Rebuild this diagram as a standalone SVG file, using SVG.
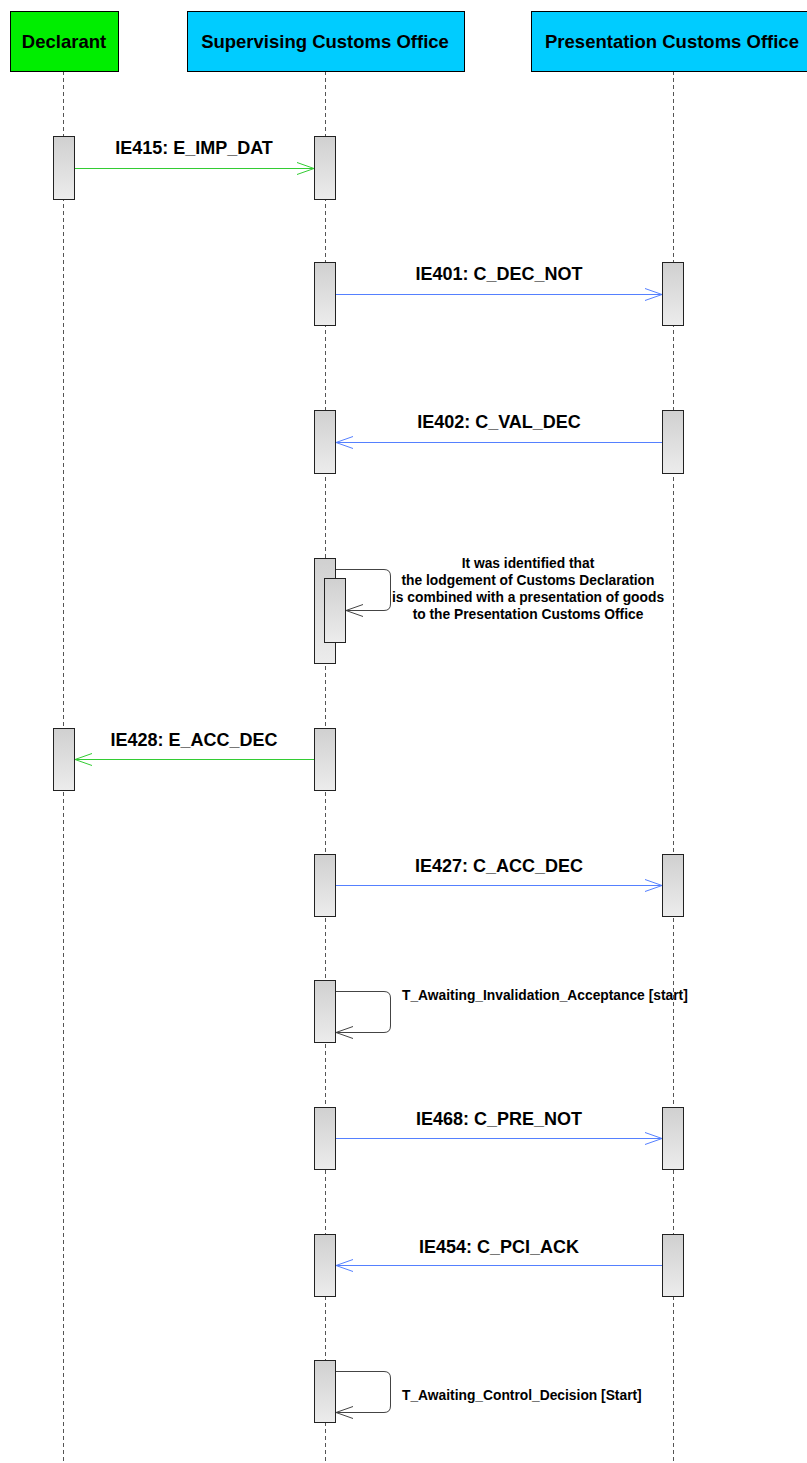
<svg xmlns="http://www.w3.org/2000/svg" width="807" height="1463" viewBox="0 0 807 1463">
<defs>
<linearGradient id="act" x1="0" y1="0" x2="0" y2="1">
<stop offset="0" stop-color="#d0d0d0"/>
<stop offset="1" stop-color="#ececec"/>
</linearGradient>
<style>
.hdr{stroke:#000;stroke-width:1}
.ht{font-family:"Liberation Sans",Arial,sans-serif;font-weight:bold;font-size:18.5px;fill:#000;text-anchor:middle}
.life{stroke:#555;stroke-width:1;stroke-dasharray:4,3;fill:none}
.act{fill:url(#act);stroke:#222;stroke-width:1}
.g{stroke:#33cc33;stroke-width:1;fill:none}
.b{stroke:#5580ff;stroke-width:1;fill:none}
.s{stroke:#444;stroke-width:1;fill:none}
.ml{font-family:"Liberation Sans",Arial,sans-serif;font-weight:bold;font-size:18px;fill:#000;text-anchor:middle}
.nt{font-family:"Liberation Sans",Arial,sans-serif;font-weight:bold;font-size:13.8px;fill:#000}
</style>
</defs>
<rect width="807" height="1463" fill="#fff"/>

<g id="lifelines">
<line class="life" x1="63.5" y1="71" x2="63.5" y2="1463"/>
<line class="life" x1="325.5" y1="71" x2="325.5" y2="1463"/>
<line class="life" x1="673.5" y1="71" x2="673.5" y2="1463"/>
</g>

<g id="declarant">
<rect class="hdr" x="10.5" y="11.5" width="108" height="60" fill="#00ee00"/>
<text class="ht" x="64" y="48">Declarant</text>
</g>
<g id="supervising">
<rect class="hdr" x="187.5" y="11.5" width="277" height="60" fill="#00ccff"/>
<text class="ht" x="325" y="48">Supervising Customs Office</text>
</g>
<g id="presentation">
<rect class="hdr" x="531.5" y="11.5" width="277" height="60" fill="#00ccff"/>
<text class="ht" x="672" y="48">Presentation Customs Office</text>
</g>

<g id="activations">
<rect class="act" x="53.5" y="136.5" width="21" height="63"/>
<rect class="act" x="314.5" y="136.5" width="21" height="63"/>
<rect class="act" x="314.5" y="262.5" width="21" height="63"/>
<rect class="act" x="662.5" y="262.5" width="21" height="63"/>
<rect class="act" x="314.5" y="410.5" width="21" height="63"/>
<rect class="act" x="662.5" y="410.5" width="21" height="63"/>
<rect class="act" x="314.5" y="558.5" width="21" height="105"/>
<rect class="act" x="324.5" y="578.5" width="21" height="64"/>
<rect class="act" x="53.5" y="728.5" width="21" height="62"/>
<rect class="act" x="314.5" y="728.5" width="21" height="62"/>
<rect class="act" x="314.5" y="854.5" width="21" height="62"/>
<rect class="act" x="662.5" y="854.5" width="21" height="62"/>
<rect class="act" x="314.5" y="980.5" width="21" height="62"/>
<rect class="act" x="314.5" y="1107.5" width="21" height="62"/>
<rect class="act" x="662.5" y="1107.5" width="21" height="62"/>
<rect class="act" x="314.5" y="1234.5" width="21" height="62"/>
<rect class="act" x="662.5" y="1234.5" width="21" height="62"/>
<rect class="act" x="314.5" y="1360.5" width="21" height="62"/>
</g>

<g id="connectors">
<path class="g" d="M75 168.5H314M297 162.5L314 168.5L297 174.5"/>
<path class="b" d="M336 294.5H662M645 288.5L662 294.5L645 300.5"/>
<path class="b" d="M662 442.5H336M353 436.5L336 442.5L353 448.5"/>
<path class="s" d="M336 569.5H384Q390.5 569.5 390.5 576V604Q390.5 610.5 384 610.5H346M363 604.5L346 610.5L363 616.5"/>
<path class="g" d="M314 759.5H75M92 753.5L75 759.5L92 765.5"/>
<path class="b" d="M336 885.5H662M645 879.5L662 885.5L645 891.5"/>
<path class="s" d="M336 991.5H384Q390.5 991.5 390.5 998V1026Q390.5 1032.5 384 1032.5H336M353 1026.5L336 1032.5L353 1038.5"/>
<path class="b" d="M336 1138.5H662M645 1132.5L662 1138.5L645 1144.5"/>
<path class="b" d="M662 1265.5H336M353 1259.5L336 1265.5L353 1271.5"/>
<path class="s" d="M336 1371.5H384Q390.5 1371.5 390.5 1378V1406Q390.5 1412.5 384 1412.5H336M353 1406.5L336 1412.5L353 1418.5"/>
</g>

<g id="labels">
<text class="ml" x="194" y="154">IE415: E_IMP_DAT</text>
<text class="ml" x="499" y="280">IE401: C_DEC_NOT</text>
<text class="ml" x="499" y="428">IE402: C_VAL_DEC</text>
<text class="ml" x="194" y="746">IE428: E_ACC_DEC</text>
<text class="ml" x="499" y="872">IE427: C_ACC_DEC</text>
<text class="ml" x="499" y="1125">IE468: C_PRE_NOT</text>
<text class="ml" x="499" y="1253">IE454: C_PCI_ACK</text>
<text class="nt" x="528" y="568" text-anchor="middle">It was identified that</text>
<text class="nt" x="528" y="585" text-anchor="middle">the lodgement of Customs Declaration</text>
<text class="nt" x="528" y="602" text-anchor="middle">is combined with a presentation of goods</text>
<text class="nt" x="528" y="619" text-anchor="middle">to the Presentation Customs Office</text>
<text class="nt" x="402" y="1000">T_Awaiting_Invalidation_Acceptance [start]</text>
<text class="nt" x="402" y="1400">T_Awaiting_Control_Decision [Start]</text>
</g>
</svg>
